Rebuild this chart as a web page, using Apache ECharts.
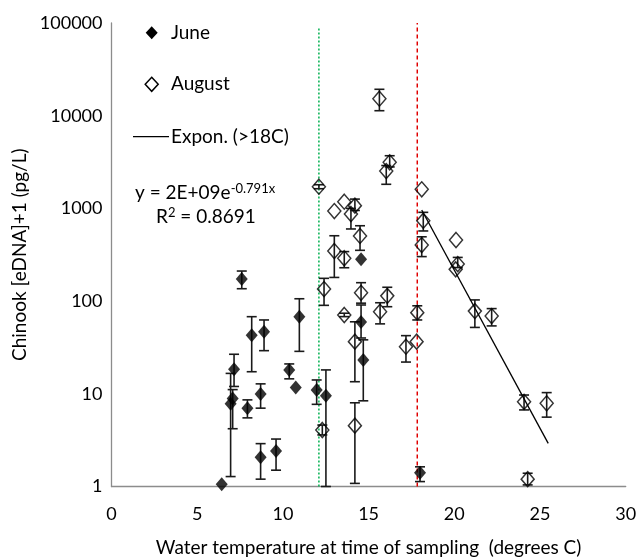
<!DOCTYPE html>
<html>
<head>
<meta charset="utf-8">
<script src="https://cdn.jsdelivr.net/npm/echarts@6/dist/echarts.min.js"></script>
<style>
html,body{margin:0;padding:0;background:#fff;}
#chart{width:638px;height:559px;}
</style>
</head>
<body>
<div id="chart"></div>
<script>
// ---- Data ----
var juneX  = [6.43, 6.95, 7.07, 7.15, 7.6, 7.93, 8.18, 8.7, 8.7, 8.9, 9.6, 10.37, 10.75, 10.96, 11.97, 12.51, 14.56, 14.56, 14.69, 18.0];
var juneY  = [1.06, 7.8, 8.9, 18.4, 173, 7.0, 42.8, 9.95, 2.07, 46.8, 2.41, 18.1, 11.7, 67.9, 11.0, 9.5, 282, 59.5, 23.2, 1.41];
var juneLo = [1.06, 1.28, 4.2, 12, 136, 5.5, 17.3, 7.0, 1.2, 29.2, 1.5, 14.5, 11.7, 28.7, 7.7, 1.0, 282, 40, 8.4, 1.13];
var juneHi = [1.06, 16.6, 11.1, 26.7, 211, 8.6, 67.9, 12.8, 2.9, 62.6, 3.25, 21, 11.7, 106, 14.1, 18.1, 282, 90.8, 38.2, 1.63];

var augX  = [12.1, 13.0, 13.58, 14.2, 13.97, 14.5, 13.0, 13.58, 12.4, 14.56, 16.09, 13.58, 15.67, 17.84, 14.2, 17.18, 17.8, 12.3, 14.2, 18.1, 18.19, 18.1, 20.1, 20.2, 20.08, 21.2, 22.18, 24.07, 25.39, 24.28, 15.63, 16.23, 16.03];
var augY  = [1714, 937, 1181, 1071, 870, 504, 347, 290, 135, 123, 114, 70.8, 76.8, 75, 36.5, 32.2, 36.5, 4.07, 4.53, 1607, 736, 403, 456, 251, 220, 78, 69, 8.2, 7.9, 1.2, 15250, 3143, 2530];
var augLo = [1630, 937, 1181, 950, 600, 353, 180, 229, 90, 95, 87, 68, 56.8, 62.6, 13.5, 22, 36.5, 3.6, 1.08, 1607, 571, 302, 456, 230, 220, 52, 54, 6.7, 5.6, 1.04, 11320, 2800, 1820];
var augHi = [1800, 937, 1181, 1260, 1000, 650, 507, 342, 176, 158, 141, 74, 96, 89, 59.8, 42.4, 36.5, 4.6, 8.0, 1607, 907, 494, 456, 296, 220, 103, 83, 9.7, 10.3, 1.39, 19270, 3700, 2900];

var trendX = [18.1, 25.48];
var trendY = [961, 2.92];

var greenLineX = [12.1, 12.1];
var greenLineY = [1, 91000];
var redLineX = [17.84, 17.84];
var redLineY = [1, 100000];

var xTicks = [0, 5, 10, 15, 20, 25, 30];
var legendNames = ['June', 'August', 'Expon. (>18C)'];
var equationText = 'y = 2E+09e{s|-0.791x}';
var r2Text = 'R{s|2} = 0.8691';

// ---- build ----
function pairs(xs, ys) { return xs.map(function (x, i) { return [x, ys[i]]; }); }
function errs(xs, lo, hi) { return xs.map(function (x, i) { return [x, lo[i], hi[i]]; }); }

var FONT = 'Lato';

function errRender(params, api) {
  var x = api.value(0), lo = api.value(1), hi = api.value(2);
  if (lo === hi) return null;
  var p1 = api.coord([x, hi]);
  var p2 = api.coord([x, lo]);
  var hw = 5;
  var st = { stroke: '#1a1a1a', lineWidth: 1.6 };
  return {
    type: 'group',
    children: [
      { type: 'line', shape: { x1: p1[0], y1: p1[1], x2: p2[0], y2: p2[1] }, style: st },
      { type: 'line', shape: { x1: p1[0] - hw, y1: p1[1], x2: p1[0] + hw, y2: p1[1] }, style: st },
      { type: 'line', shape: { x1: p2[0] - hw, y1: p2[1], x2: p2[0] + hw, y2: p2[1] }, style: st }
    ]
  };
}

function diamond(cx, cy, w, h, filled) {
  return {
    type: 'polygon',
    shape: { points: [[cx, cy - h / 2], [cx + w / 2, cy], [cx, cy + h / 2], [cx - w / 2, cy]] },
    style: filled ? { fill: '#000' } : { fill: 'none', stroke: '#000', lineWidth: 1.5 }
  };
}
function legendText(x, y, t) {
  return { type: 'text', x: x, y: y, style: { text: t, fontFamily: FONT, fontSize: 19, fill: '#000', verticalAlign: 'middle' } };
}

var chart = echarts.init(document.getElementById('chart'), null, { renderer: 'canvas' });
chart.setOption({
  animation: false,
  backgroundColor: '#fff',
  textStyle: { fontFamily: FONT },
  grid: { left: 111.5, right: 12.3, top: 23, bottom: 72.5, containLabel: false, outerBoundsMode: 'none' },
  xAxis: {
    type: 'value', min: 0, max: 30, interval: 5,
    name: 'Water temperature at time of sampling  (degrees C)',
    nameLocation: 'middle', nameGap: 52,
    nameTextStyle: { fontFamily: FONT, fontSize: 19, color: '#000' },
    axisLine: { show: true, lineStyle: { color: '#8c8c8c', width: 1.3 } },
    axisTick: { show: false },
    splitLine: { show: false },
    axisLabel: { fontFamily: FONT, fontSize: 18, color: '#000', margin: 19,
      customValues: xTicks }
  },
  yAxis: {
    type: 'log', logBase: 10, min: 1, max: 100000,
    name: 'Chinook [eDNA]+1 (pg/L)',
    nameLocation: 'middle', nameGap: 82,
    nameTextStyle: { fontFamily: FONT, fontSize: 19, color: '#000' },
    axisLine: { show: true, lineStyle: { color: '#8c8c8c', width: 1.3 } },
    axisTick: { show: false },
    splitLine: { show: false },
    axisLabel: { fontFamily: FONT, fontSize: 18, color: '#000', margin: 9,
      formatter: function (v) { return String(Math.round(v)); } }
  },
  graphic: [
    diamond(151.7, 32.7, 12, 13, true),
    legendText(171, 32.7, legendNames[0]),
    diamond(151.7, 84.3, 13, 14, false),
    legendText(171, 84.3, legendNames[1]),
    { type: 'line', shape: { x1: 133, y1: 136.7, x2: 169, y2: 136.7 }, style: { stroke: '#000', lineWidth: 1.3 } },
    legendText(171, 136.7, legendNames[2]),
    { type: 'text', x: 135, y: 193, style: {
        text: equationText, fontFamily: FONT, fontSize: 19, fill: '#000', verticalAlign: 'middle',
        rich: { s: { fontSize: 13, padding: [0, 0, 9, 0], fontFamily: FONT } } } },
    { type: 'text', x: 156, y: 217, style: {
        text: r2Text, fontFamily: FONT, fontSize: 19, fill: '#000', verticalAlign: 'middle',
        rich: { s: { fontSize: 13, padding: [0, 0, 9, 0], fontFamily: FONT } } } }
  ],
  series: [
    { name: 'greenLine', type: 'line', data: pairs(greenLineX, greenLineY), symbol: 'none',
      lineStyle: { color: '#00b050', width: 1.5, type: [2, 2] }, z: 1, silent: true },
    { name: 'redLine', type: 'line', data: pairs(redLineX, redLineY), symbol: 'none',
      lineStyle: { color: '#e00000', width: 1.5, type: [4, 3] }, z: 1, silent: true },
    { name: 'juneErr', type: 'custom', renderItem: errRender, data: errs(juneX, juneLo, juneHi), z: 2,
      encode: { x: 0, y: [1, 2] } },
    { name: 'augErr', type: 'custom', renderItem: errRender, data: errs(augX, augLo, augHi), z: 2,
      encode: { x: 0, y: [1, 2] } },
    { name: 'June', type: 'scatter', symbol: 'diamond', symbolSize: [12, 14],
      data: pairs(juneX, juneY), itemStyle: { color: '#000' }, z: 3 },
    { name: 'August', type: 'scatter', symbol: 'diamond', symbolSize: [13, 15],
      data: pairs(augX, augY),
      itemStyle: { color: 'rgba(255,255,255,0)', borderColor: '#000', borderWidth: 1.5 }, z: 3 },
    { name: 'Expon. (>18C)', type: 'line', data: pairs(trendX, trendY), symbol: 'none',
      lineStyle: { color: '#000', width: 1.3 }, z: 2 }
  ]
});
</script>
</body>
</html>
